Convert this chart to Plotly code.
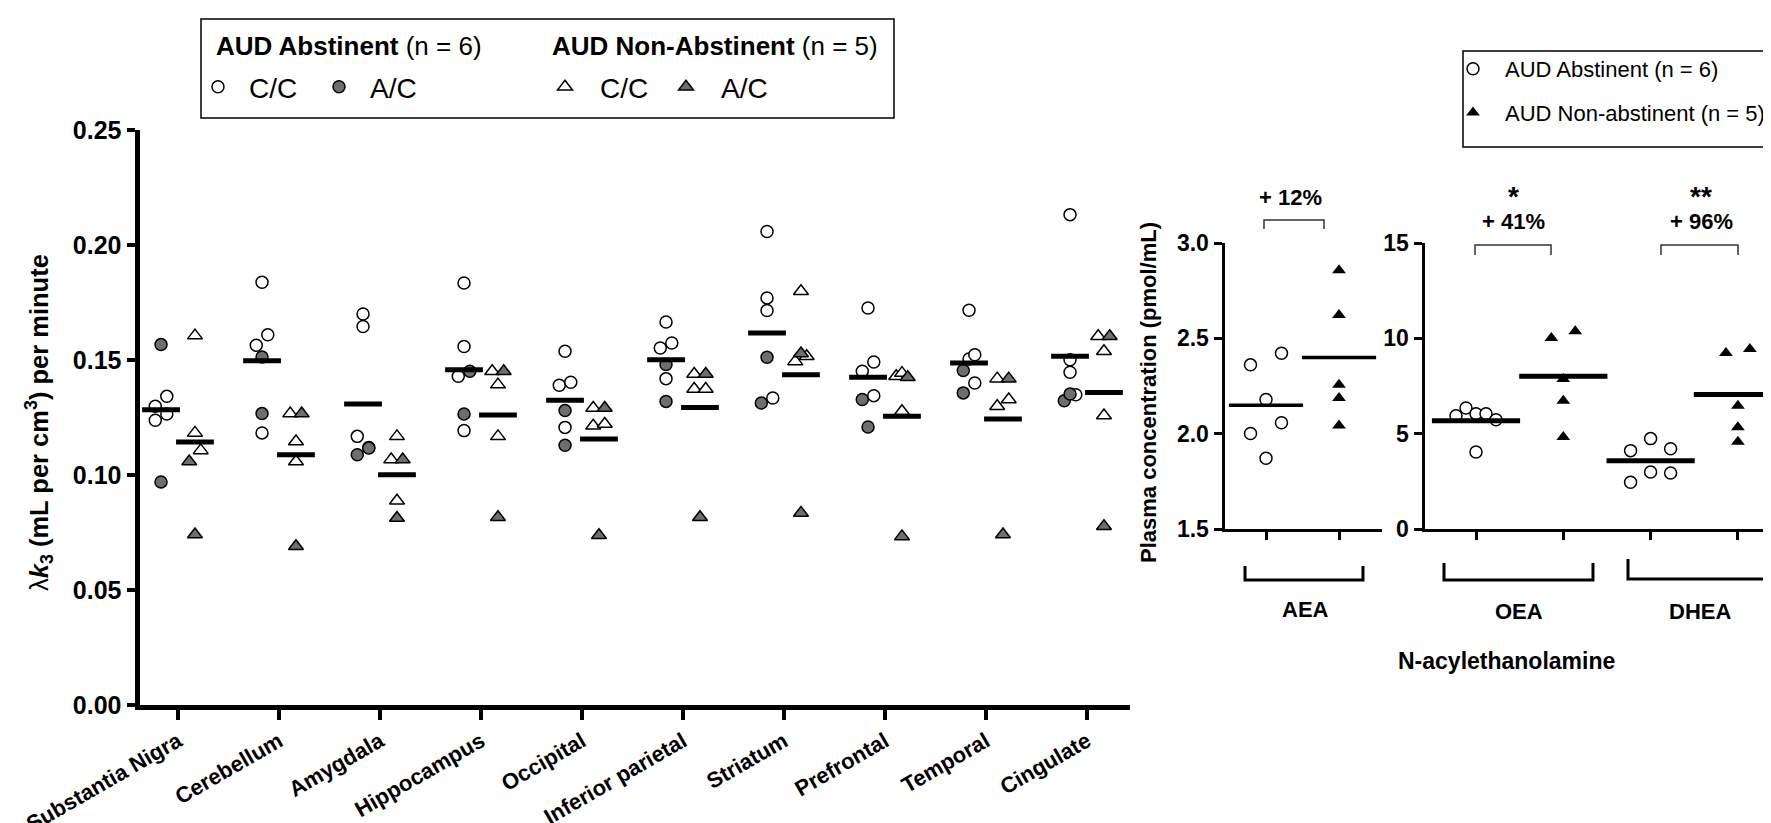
import plotly.graph_objects as go

# ---------------- data: left panel (lambda k3) ----------------
regions = ["Substantia Nigra", "Cerebellum", "Amygdala", "Hippocampus", "Occipital",
           "Inferior parietal", "Striatum", "Prefrontal", "Temporal", "Cingulate"]

abst_cc = [[0.1299, 0.1342, 0.1265, 0.1238], [0.1838, 0.1610, 0.1564, 0.1183],
           [0.1700, 0.1646, 0.1168, 0.1120], [0.1835, 0.1559, 0.1429, 0.1193],
           [0.1538, 0.1390, 0.1403, 0.1207], [0.1665, 0.1552, 0.1574, 0.1419],
           [0.2059, 0.1770, 0.1715, 0.1335], [0.1726, 0.1451, 0.1491, 0.1345],
           [0.1716, 0.1504, 0.1523, 0.1400], [0.2132, 0.1501, 0.1447, 0.1349]]
abst_cc_jit = [[-1, 1, 1, -1], [0, 1, -1, 0], [0, 0, -1, 1], [0, 0, -1, 0], [0, -1, 1, 0],
               [0, -1, 1, 0], [0, 0, 0, 1], [0, -1, 1, 1], [0, 0, 1, 1], [0, 0, 0, 1]]

abst_ac = [[0.1567, 0.0970], [0.1513, 0.1267], [0.1088, 0.1117], [0.1451, 0.1265],
           [0.1280, 0.1129], [0.1480, 0.1320], [0.1512, 0.1313], [0.1328, 0.1209],
           [0.1454, 0.1357], [0.1323, 0.1352]]
abst_ac_jit = [[0, 0], [0, 0], [-1, 1], [1, 0], [0, 0], [0, 0], [0, -1], [-1, 0], [-1, -1], [-1, 0]]

non_cc = [[0.1606, 0.1183, 0.1107], [0.1267, 0.1146, 0.1059], [0.1168, 0.1067, 0.0888],
          [0.1451, 0.1393, 0.1168], [0.1291, 0.1214, 0.1222], [0.1439, 0.1374, 0.1374],
          [0.1799, 0.1494, 0.1516], [0.1429, 0.1443, 0.1277], [0.1419, 0.1299, 0.1328],
          [0.1603, 0.1538, 0.1259]]
non_cc_jit = [[0, 0, 1], [-1, 0, 0], [0, -1, 0], [-1, 0, 0], [-1, -1, 1], [-1, -1, 1],
              [0, -1, 1], [-1, 0, 0], [-1, -1, 1], [-1, 0, 0]]

non_ac = [[0.1059, 0.0741], [0.1267, 0.0690], [0.1067, 0.0813], [0.1451, 0.0816],
          [0.1291, 0.0738], [0.1439, 0.0816], [0.1528, 0.0835], [0.1425, 0.0733],
          [0.1419, 0.0741], [0.1603, 0.0777]]
non_ac_jit = [[-1, 0], [1, 0], [1, 0], [1, 0], [1, 0], [1, 0], [0, 0], [1, 0], [1, 0], [1, 0]]

abst_mean = [0.1284, 0.1497, 0.1309, 0.1458, 0.1325, 0.1501, 0.1617, 0.1425, 0.1487, 0.1516]
non_mean = [0.1143, 0.1088, 0.1001, 0.1261, 0.1157, 0.1294, 0.1436, 0.1255, 0.1243, 0.1359]

y_ticks_left = [0.00, 0.05, 0.10, 0.15, 0.20, 0.25]

# ---------------- data: right panels (plasma NAEs) ----------------
nae_labels = ["AEA", "OEA", "DHEA"]
aea_abst = [2.361, 2.422, 2.179, 2.001, 2.057, 1.871]
aea_abst_jit = [-1, 1, 0, -1, 1, 0]
aea_non = [2.857, 2.622, 2.257, 2.187, 2.043]
oea_abst = [5.94, 6.35, 6.05, 6.05, 5.73, 4.04]
oea_abst_jit = [-2, -1, 0, 1, 2, 0]
oea_non = [10.02, 10.37, 7.87, 6.73, 4.83]
oea_non_jit = [-1, 1, 0, 0, 0]
dhea_abst = [4.11, 4.74, 4.21, 2.45, 2.99, 2.94]
dhea_abst_jit = [-2, 0, 2, -2, 0, 2]
dhea_non = [9.23, 9.44, 6.47, 5.33, 4.58]
dhea_non_jit = [-1, 1, 0, 0, 0]
aea_mean = [2.149, 2.400]
oea_mean = [5.68, 8.01]
dhea_mean = [3.58, 7.05]
pct_labels = ["+ 12%", "+ 41%", "+ 96%"]
sig_labels = ["", "*", "**"]
aea_ticks = [1.5, 2.0, 2.5, 3.0]
oea_ticks = [0, 5, 10, 15]

# ---------------- geometry helpers ----------------
W, H = 1771, 823
def px(x):
    return x / W
def py(y):
    return 1 - y / H

FONT = "Liberation Sans, Arial, sans-serif"
GREY = "#6e6e6e"

fig = go.Figure()

GOFF = 0.168   # group offset from category centre
JU = 0.057     # jitter step

def left_xy(vals, jits, off):
    xs, ys = [], []
    for i, (vv, jj) in enumerate(zip(vals, jits)):
        for v, j in zip(vv, jj):
            xs.append(i + off + j * JU)
            ys.append(v)
    return xs, ys

mk_line = dict(color="black", width=1.5)
x, y = left_xy(abst_cc, abst_cc_jit, -GOFF)
fig.add_trace(go.Scatter(x=x, y=y, mode="markers", name="C/C", legend="legend",
                         marker=dict(symbol="circle", size=12, color="white", line=mk_line)))
x, y = left_xy(abst_ac, abst_ac_jit, -GOFF)
fig.add_trace(go.Scatter(x=x, y=y, mode="markers", name="A/C", legend="legend",
                         marker=dict(symbol="circle", size=12, color=GREY, line=mk_line)))
x, y = left_xy(non_cc, non_cc_jit, GOFF)
fig.add_trace(go.Scatter(x=x, y=y, mode="markers", name="C/C", legend="legend2",
                         marker=dict(symbol="triangle-up", size=13, color="white", line=mk_line)))
x, y = left_xy(non_ac, non_ac_jit, GOFF)
fig.add_trace(go.Scatter(x=x, y=y, mode="markers", name="A/C", legend="legend2",
                         marker=dict(symbol="triangle-up", size=13, color=GREY, line=mk_line)))

fig.add_trace(go.Scatter(x=[i - GOFF for i in range(len(regions))], y=abst_mean, mode="markers",
                         showlegend=False,
                         marker=dict(symbol="line-ew", size=27, line=dict(color="black", width=5))))
fig.add_trace(go.Scatter(x=[i + GOFF for i in range(len(regions))], y=non_mean, mode="markers",
                         showlegend=False,
                         marker=dict(symbol="line-ew", size=27, line=dict(color="black", width=5))))

# AEA panel
AJ = 0.212
fig.add_trace(go.Scatter(x=[j * AJ for j in aea_abst_jit], y=aea_abst, mode="markers",
                         xaxis="x2", yaxis="y2", showlegend=False,
                         marker=dict(symbol="circle", size=12, color="white", line=mk_line)))
fig.add_trace(go.Scatter(x=[1] * len(aea_non), y=aea_non, mode="markers",
                         xaxis="x2", yaxis="y2", showlegend=False,
                         marker=dict(symbol="triangle-up", size=12, color="black", line=dict(width=0))))
fig.add_trace(go.Scatter(x=[0, 1], y=aea_mean, mode="markers", xaxis="x2", yaxis="y2",
                         showlegend=False,
                         marker=dict(symbol="line-ew", size=53, line=dict(color="black", width=3.5))))

# OEA / DHEA panel
CJ = 0.1146
TJ = 0.137
fig.add_trace(go.Scatter(x=[j * CJ for j in oea_abst_jit] + [2 + j * CJ for j in dhea_abst_jit],
                         y=oea_abst + dhea_abst, mode="markers", xaxis="x3", yaxis="y3",
                         name="AUD Abstinent (n = 6)", legend="legend3", legendgroup="a",
                         marker=dict(symbol="circle", size=12, color="white", line=mk_line)))
fig.add_trace(go.Scatter(x=[1 + j * TJ for j in oea_non_jit] + [3 + j * TJ for j in dhea_non_jit],
                         y=oea_non + dhea_non, mode="markers", xaxis="x3", yaxis="y3",
                         name="AUD Non-abstinent (n = 5)", legend="legend3", legendgroup="b",
                         marker=dict(symbol="triangle-up", size=12, color="black", line=dict(width=0))))
fig.add_trace(go.Scatter(x=[0, 1, 2, 3], y=oea_mean + dhea_mean, mode="markers",
                         xaxis="x3", yaxis="y3", showlegend=False,
                         marker=dict(symbol="line-ew", size=63, line=dict(color="black", width=5))))

# ---------------- axes ----------------
common = dict(showgrid=False, zeroline=False, showline=True, linecolor="black", ticks="outside",
              tickcolor="black")

left_x0, left_x1 = 131.5, 1122
cat0, step = 170, 101
fig.update_layout(
    xaxis=dict(domain=[px(left_x0), px(left_x1)],
               range=[(left_x0 - cat0) / step, (left_x1 - cat0) / step],
               tickvals=list(range(len(regions))), ticktext=regions, tickangle=-30,
               tickfont=dict(family=FONT, size=22, color="black", weight="bold"),
               linewidth=5, ticklen=10, tickwidth=4, anchor="y", **common),
    yaxis=dict(domain=[py(697), py(122)], range=[0, 0.25], tickvals=y_ticks_left,
               tickformat=".2f", tickfont=dict(family=FONT, size=25, color="black", weight="bold"),
               linewidth=5, ticklen=8, tickwidth=4, anchor="x", **common),
    xaxis2=dict(domain=[px(1216.5), px(1374)],
                range=[(1216.5 - 1258) / 73, (1374 - 1258) / 73],
                tickvals=[0, 1], showticklabels=False, linewidth=3, ticklen=8, tickwidth=3,
                anchor="y2", **common),
    yaxis2=dict(domain=[py(521), py(235)], range=[1.5, 3.0], tickvals=aea_ticks,
                tickformat=".1f", tickfont=dict(family=FONT, size=23, color="black", weight="bold"),
                linewidth=3, ticklen=8, tickwidth=3, anchor="x2", **common),
    xaxis3=dict(domain=[px(1416.5), 1.0],
                range=[(1416.5 - 1468) / 87.3, (1771 - 1468) / 87.3],
                tickvals=[0, 1, 2, 3], showticklabels=False, linewidth=3, ticklen=8, tickwidth=3,
                anchor="y3", **common),
    yaxis3=dict(domain=[py(521), py(235)], range=[0, 15], tickvals=oea_ticks,
                tickfont=dict(family=FONT, size=23, color="black", weight="bold"),
                linewidth=3, ticklen=8, tickwidth=3, anchor="x3", **common),
)

# ---------------- legends ----------------
leg_common = dict(orientation="h", xanchor="left", yanchor="middle", bgcolor="rgba(0,0,0,0)",
                  borderwidth=0, font=dict(family=FONT, size=28, color="black"),
                  entrywidthmode="pixels", itemclick=False, itemdoubleclick=False)
fig.update_layout(
    legend=dict(x=px(179), y=py(79), itemwidth=52, entrywidth=54, **leg_common),
    legend2=dict(x=px(522), y=py(79), itemwidth=60, entrywidth=46, **leg_common),
    legend3=dict(x=px(1433), y=py(40), xanchor="left", yanchor="top", orientation="v",
                 bgcolor="rgba(0,0,0,0)", borderwidth=0, tracegroupgap=12, itemwidth=54,
                 font=dict(family=FONT, size=22, color="black"),
                 itemclick=False, itemdoubleclick=False),
)

shapes = []
shapes.append(dict(type="rect", xref="paper", yref="paper", x0=px(193), x1=px(886), y0=py(110), y1=py(11),
                   line=dict(color="black", width=1.5)))
shapes.append(dict(type="rect", xref="paper", yref="paper", x0=px(1455), x1=px(1800), y0=py(139), y1=py(43),
                   line=dict(color="black", width=1.5)))

def path_px(points):
    s = ""
    for k, (a, b) in enumerate(points):
        s += ("M" if k == 0 else "L") + f" {px(a):.5f},{py(b):.5f} "
    return s

for x0, x1, ytop, ybot in [(1256, 1316, 212, 221), (1467, 1543, 237, 247), (1653, 1730, 237, 247)]:
    shapes.append(dict(type="path", xref="paper", yref="paper",
                       path=path_px([(x0, ybot), (x0, ytop), (x1, ytop), (x1, ybot)]),
                       line=dict(color="#333333", width=1.5)))
for x0, x1, ytop, ybot in [(1237, 1355, 558, 572), (1436, 1585, 555, 572), (1620, 1763, 551, 571)]:
    shapes.append(dict(type="path", xref="paper", yref="paper",
                       path=path_px([(x0, ytop), (x0, ybot), (x1, ybot), (x1, ytop)]),
                       line=dict(color="black", width=3)))
fig.update_layout(shapes=shapes)

ann = []
def add_text(text, x, y, size, angle=0, xanchor="center"):
    ann.append(dict(text=text, x=px(x), y=py(y), xref="paper", yref="paper", showarrow=False,
                    xanchor=xanchor, yanchor="middle", textangle=angle,
                    font=dict(family=FONT, size=size, color="black")))

add_text("<b>AUD Abstinent</b> (n = 6)", 206, 38, 26, xanchor="left")
add_text("<b>AUD Non-Abstinent</b> (n = 5)", 542, 38, 26, xanchor="left")
add_text("λ<b><i>k</i><sub>3</sub> (mL per cm<sup>3</sup>) per minute</b>", 31, 415, 25.5, -90)
add_text("<b>Plasma concentration (pmol/mL)</b>", 1140, 385, 22, -90)
for lab, sg, xc, yp, ys in zip(pct_labels, sig_labels, [1282, 1505, 1693], [190, 213, 213], [0, 188, 188]):
    add_text(f"<b>{lab}</b>", xc, yp, 22)
    if sg:
        add_text(f"<b>{sg}</b>", xc, ys, 28)
for lab, xc, yc in zip(nae_labels, [1297, 1511, 1692], [601, 603, 603]):
    add_text(f"<b>{lab}</b>", xc, yc, 22)
add_text("<b>N-acylethanolamine</b>", 1498, 653, 23)
fig.update_layout(annotations=ann)

fig.update_layout(width=W, height=H, margin=dict(l=0, r=0, t=0, b=0, autoexpand=False),
                  plot_bgcolor="white", paper_bgcolor="white",
                  font=dict(family=FONT, color="black"))

fig.write_html("out.html")
